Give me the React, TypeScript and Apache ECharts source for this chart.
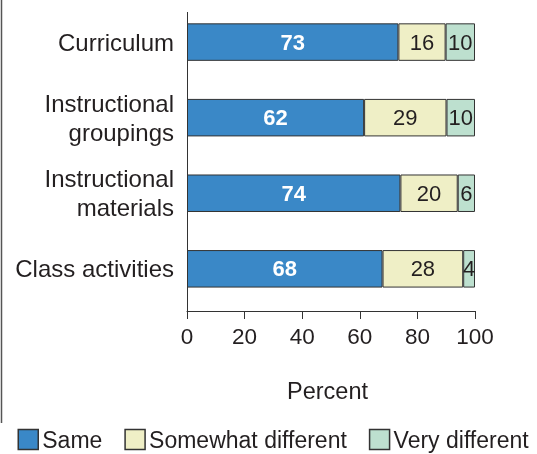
import React, { useEffect, useRef } from "react";
import * as echarts from "echarts";

const categories = ["Curriculum", "Instructional\ngroupings", "Instructional\nmaterials", "Class activities"];
const seriesNames = ["Same", "Somewhat different", "Very different"];
const same = [73.4, 61.5, 74.1, 67.9];
const somewhat = [16.4, 28.6, 19.9, 28.0];
const veryDifferent = [10.2, 9.9, 6.0, 4.1];
const xMin = 0;
const xMax = 100;
const xInterval = 20;
const axisTitle = "Percent";

const colors = ["#3a88c7", "#efefc6", "#bde0cf"];
const textColor = "#231f20";
const lineColor = "#333333";
const font = "'Liberation Sans', Arial, Helvetica, sans-serif";

export default function App() {
  const ref = useRef<HTMLDivElement>(null);
  useEffect(() => {
    document.body.style.margin = "0";
    if (!ref.current) return;
    const chart = echarts.init(ref.current, null, { renderer: "svg" });
    const values = [same, somewhat, veryDifferent];
    const series = seriesNames.map((name, i) => ({
      name,
      type: "bar",
      stack: "total",
      barWidth: 37.5,
      data: values[i],
      itemStyle: { color: colors[i], borderColor: lineColor, borderWidth: 1 },
      label: {
        show: true,
        position: "inside",
        formatter: (p: any) => String(Math.round(p.value)),
        color: i === 0 ? "#ffffff" : textColor,
        fontWeight: i === 0 ? "bold" : "normal",
        fontSize: 22,
        fontFamily: font,
      },
    }));
    chart.setOption({
      animation: false,
      textStyle: { fontFamily: font },
      grid: { left: 187, right: 62, top: 4.3, bottom: 147.4, containLabel: false },
      xAxis: {
        type: "value",
        min: xMin,
        max: xMax,
        interval: xInterval,
        offset: 4.4,
        name: axisTitle,
        nameLocation: "middle",
        nameGap: 68,
        nameTextStyle: { color: textColor, fontSize: 23.5, fontFamily: font, padding: [0, 7, 0, 0] },
        axisLine: { show: true, lineStyle: { color: lineColor, width: 1 } },
        axisTick: { show: true, length: 8, lineStyle: { color: lineColor, width: 1 } },
        axisLabel: { color: textColor, fontSize: 22.5, fontFamily: font, margin: 14 },
        splitLine: { show: false },
      },
      yAxis: {
        type: "category",
        inverse: true,
        data: categories,
        axisLine: { show: false },
        axisTick: { show: false },
        axisLabel: {
          color: textColor,
          fontSize: 24,
          fontFamily: font,
          margin: 13,
          align: "right",
          lineHeight: 29,
        },
      },
      legend: {
        data: seriesNames,
        left: 17.5,
        top: 428,
        padding: 0,
        itemWidth: 20,
        itemHeight: 20,
        itemGap: 22,
        icon: "rect",
        itemStyle: { borderWidth: 1.5 },
        textStyle: { color: textColor, fontSize: 23, fontFamily: font, padding: [0, 0, 0, -1] },
      },
      graphic: [
        {
          type: "line",
          shape: { x1: 187.5, y1: 12, x2: 187.5, y2: 311 },
          style: { stroke: lineColor, lineWidth: 1 },
          silent: true,
        },
        {
          type: "line",
          shape: { x1: 1.5, y1: 0, x2: 1.5, y2: 423 },
          style: { stroke: "#555555", lineWidth: 1.5 },
          silent: true,
        },
      ],
      series,
    });
    return () => chart.dispose();
  }, []);
  return <div ref={ref} style={{ position: "fixed", left: 0, top: 0, width: 537, height: 454 }} />;
}
